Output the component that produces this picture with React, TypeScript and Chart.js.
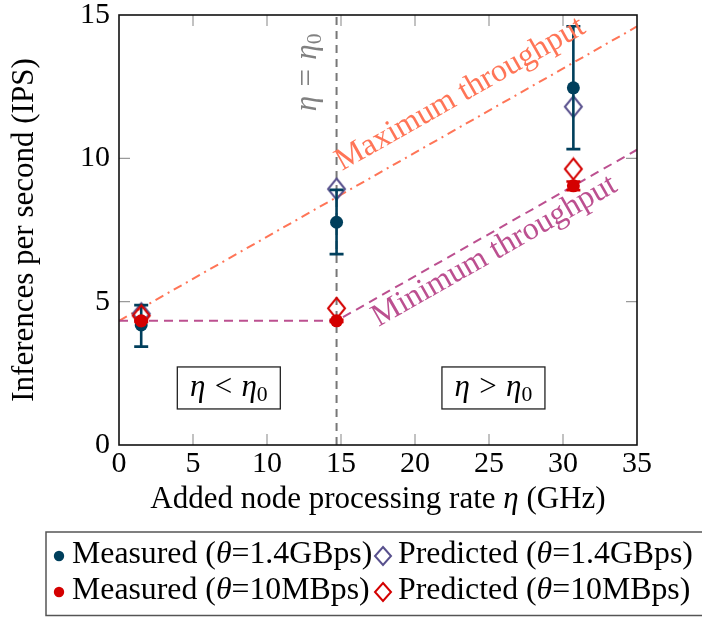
import React, { useEffect, useRef } from "react";
import { Chart, registerables } from "chart.js";

Chart.register(...registerables);

// ---------------- data ----------------
const ETA0 = 14.7;
const pointX = [1.5, 14.7, 30.7];

const measuredFast = [4.19, 7.77, 12.46];
const measuredFastLow = [3.43, 6.66, 10.32];
const measuredFastHigh = [4.88, 8.9, 14.61];
const predictedFast = [4.58, 8.93, 11.8];

const measuredSlow = [4.33, 4.33, 9.04];
const measuredSlowLow = [4.29, 4.29, 8.89];
const measuredSlowHigh = [4.37, 4.37, 9.19];
const predictedSlow = [4.51, 4.77, 9.63];

const maxThroughputX = [0, 35];
const maxThroughputY = [4.33, 14.6];
const minThroughputX = [0, ETA0, 35];
const minThroughputY = [4.33, 4.33, 10.3];
const etaLineX = [ETA0, ETA0];
const etaLineY = [0, 15];

const xTickValues = [0, 5, 10, 15, 20, 25, 30, 35];
const yTickValues = [0, 5, 10, 15];

const seriesLabels = [
  "Measured (θ=1.4GBps)",
  "Predicted (θ=1.4GBps)",
  "Measured (θ=10MBps)",
  "Predicted (θ=10MBps)",
];

// ---------------- styles ----------------
const FONT = '"Liberation Serif", "DejaVu Serif", serif';
const NAVY = "#003f5c";
const PURPLE = "#58508d";
const RED = "#d40000";
const SALMON = "#ff7557";
const MAGENTA = "#bc5090";
const GRAY = "#777777";

type Seg = { t: string; it?: boolean; sub?: boolean; gap?: number };

function segFont(s: Seg, size: number) {
  return `${s.it ? "italic " : ""}${s.sub ? size * 0.7 : size}px ${FONT}`;
}

function segWidth(ctx: CanvasRenderingContext2D, s: Seg, size: number) {
  if (s.gap) return s.gap * size;
  ctx.font = segFont(s, size);
  return ctx.measureText(s.t).width;
}

function drawRich(
  ctx: CanvasRenderingContext2D,
  segs: Seg[],
  x: number,
  y: number,
  size: number,
  align: "left" | "center" | "right"
) {
  ctx.textAlign = "left";
  ctx.textBaseline = "alphabetic";
  let w = 0;
  for (const s of segs) w += segWidth(ctx, s, size);
  let cx = align === "center" ? x - w / 2 : align === "right" ? x - w : x;
  for (const s of segs) {
    const sw = segWidth(ctx, s, size);
    if (!s.gap) {
      ctx.font = segFont(s, size);
      ctx.fillText(s.t, cx, y + (s.sub ? size * 0.16 : 0));
    }
    cx += sw;
  }
}

const mathRel = (rel: string): Seg[] => [
  { t: "η", it: true },
  { t: "", gap: 0.3 },
  { t: rel },
  { t: "", gap: 0.3 },
  { t: "η", it: true },
  { t: "0", sub: true },
];

function thetaSegs(label: string): Seg[] {
  const parts = label.split("θ");
  const out: Seg[] = [];
  parts.forEach((p, i) => {
    if (i > 0) out.push({ t: "θ", it: true });
    if (p) out.push({ t: p });
  });
  return out;
}

function makeDiamond(color: string, w: number, h: number, lw: number) {
  const c = document.createElement("canvas");
  c.width = Math.ceil(w + lw * 2);
  c.height = Math.ceil(h + lw * 2);
  const ctx = c.getContext("2d")!;
  const cx = c.width / 2;
  const cy = c.height / 2;
  ctx.strokeStyle = color;
  ctx.lineWidth = lw;
  ctx.lineJoin = "miter";
  ctx.beginPath();
  ctx.moveTo(cx, cy - h / 2);
  ctx.lineTo(cx + w / 2, cy);
  ctx.lineTo(cx, cy + h / 2);
  ctx.lineTo(cx - w / 2, cy);
  ctx.closePath();
  ctx.stroke();
  return c;
}

const toPts = (xs: number[], ys: number[]) => xs.map((x, i) => ({ x, y: ys[i] }));

function buildChart(canvas: HTMLCanvasElement) {
  const diamondPurple = makeDiamond(PURPLE, 17, 21, 2);
  const diamondRed = makeDiamond(RED, 17, 21, 2);
  const legendDiamondPurple = makeDiamond(PURPLE, 16, 18, 2);
  const legendDiamondRed = makeDiamond(RED, 16, 18, 2);

  const decor = {
    id: "decor",
    beforeDatasetDraw(chart: any, args: any) {
      const ds = chart.data.datasets[args.index];
      if (!ds.errLow) return;
      const ctx: CanvasRenderingContext2D = chart.ctx;
      const yS = chart.scales.y;
      ctx.save();
      ctx.strokeStyle = ds.errColor;
      ctx.lineWidth = 2.6;
      args.meta.data.forEach((pt: any, i: number) => {
        const yl = yS.getPixelForValue(ds.errLow[i]);
        const yh = yS.getPixelForValue(ds.errHigh[i]);
        ctx.beginPath();
        ctx.moveTo(pt.x, yl);
        ctx.lineTo(pt.x, yh);
        ctx.moveTo(pt.x - 7, yl);
        ctx.lineTo(pt.x + 7, yl);
        ctx.moveTo(pt.x - 7, yh);
        ctx.lineTo(pt.x + 7, yh);
        ctx.stroke();
      });
      ctx.restore();
    },
    afterDatasetsDraw(chart: any) {
      const ctx: CanvasRenderingContext2D = chart.ctx;
      const { left, right, top, bottom } = chart.chartArea;
      const xS = chart.scales.x;
      const yS = chart.scales.y;
      ctx.save();
      // inward tick marks
      ctx.strokeStyle = "#9a9a9a";
      ctx.lineWidth = 1.2;
      ctx.beginPath();
      xS.ticks.forEach((t: any) => {
        const px = xS.getPixelForValue(t.value);
        if (px <= left + 1 || px >= right - 1) return;
        ctx.moveTo(px, bottom);
        ctx.lineTo(px, bottom - 11);
        ctx.moveTo(px, top);
        ctx.lineTo(px, top + 11);
      });
      yS.ticks.forEach((t: any) => {
        const py = yS.getPixelForValue(t.value);
        if (py <= top + 1 || py >= bottom - 1) return;
        ctx.moveTo(left, py);
        ctx.lineTo(left + 11, py);
        ctx.moveTo(right, py);
        ctx.lineTo(right - 11, py);
      });
      ctx.stroke();
      // frame
      ctx.strokeStyle = "#111";
      ctx.lineWidth = 1.6;
      ctx.strokeRect(left, top, right - left, bottom - top);

      // eta = eta0 label
      ctx.fillStyle = "#808080";
      ctx.save();
      ctx.translate(xS.getPixelForValue(ETA0) - 21, yS.getPixelForValue(13.0));
      ctx.rotate(-Math.PI / 2);
      drawRich(ctx, mathRel("="), 0, 0, 31, "center");
      ctx.restore();

      // throughput labels along the lines
      const lineLabel = (
        xs: number[],
        ys: number[],
        seg: number,
        anchorX: number,
        along: number,
        perp: number,
        text: string,
        color: string
      ) => {
        const x1 = xS.getPixelForValue(xs[seg]);
        const y1 = yS.getPixelForValue(ys[seg]);
        const x2 = xS.getPixelForValue(xs[seg + 1]);
        const y2 = yS.getPixelForValue(ys[seg + 1]);
        const ang = Math.atan2(y2 - y1, x2 - x1);
        const f = (anchorX - xs[seg]) / (xs[seg + 1] - xs[seg]);
        const ay = ys[seg] + f * (ys[seg + 1] - ys[seg]);
        ctx.save();
        ctx.translate(xS.getPixelForValue(anchorX), yS.getPixelForValue(ay));
        ctx.rotate(ang);
        ctx.fillStyle = color;
        ctx.font = `32px ${FONT}`;
        ctx.textAlign = "left";
        ctx.textBaseline = "alphabetic";
        ctx.fillText(text, along, perp);
        ctx.restore();
      };
      lineLabel(maxThroughputX, maxThroughputY, 0, 14.8, 16, -20, "Maximum throughput", SALMON);
      lineLabel(minThroughputX, minThroughputY, 1, 16.6, 1, 26, "Minimum throughput", MAGENTA);

      // region boxes
      const regionBox = (cxVal: number, cyVal: number, segs: Seg[]) => {
        const cx = xS.getPixelForValue(cxVal);
        const cy = yS.getPixelForValue(cyVal);
        ctx.save();
        ctx.fillStyle = "#fff";
        ctx.fillRect(cx - 51.5, cy - 21, 103, 42);
        ctx.strokeStyle = "#222";
        ctx.lineWidth = 1.3;
        ctx.strokeRect(cx - 51.5, cy - 21, 103, 42);
        ctx.fillStyle = "#000";
        drawRich(ctx, segs, cx, cy + 8, 31, "center");
        ctx.restore();
      };
      regionBox(7.42, 1.99, mathRel("<"));
      regionBox(25.3, 1.99, mathRel(">"));
      ctx.restore();
    },
    afterDraw(chart: any) {
      const ctx: CanvasRenderingContext2D = chart.ctx;
      const { left, right, top, bottom } = chart.chartArea;
      ctx.save();
      ctx.fillStyle = "#000";
      // x title
      drawRich(
        ctx,
        [{ t: "Added node processing rate " }, { t: "η", it: true }, { t: " (GHz)" }],
        (left + right) / 2,
        508,
        31,
        "center"
      );
      // y title
      ctx.save();
      ctx.translate(33, (top + bottom) / 2);
      ctx.rotate(-Math.PI / 2);
      drawRich(ctx, [{ t: "Inferences per second (IPS)" }], 0, 0, 31, "center");
      ctx.restore();

      // legend
      ctx.strokeStyle = "#555";
      ctx.lineWidth = 1.5;
      ctx.strokeRect(46, 532, 700, 83.5);
      const ds = chart.data.datasets;
      const entries = [
        { d: ds[4], col: 0, row: 0 },
        { d: ds[3], col: 1, row: 0 },
        { d: ds[6], col: 0, row: 1 },
        { d: ds[5], col: 1, row: 1 },
      ];
      const colMarker = [59, 383];
      const colText = [72, 398];
      const rowBase = [563, 599];
      entries.forEach((e) => {
        const mx = colMarker[e.col];
        const my = rowBase[e.row] - 7;
        if (e.d.legendKind === "circle") {
          ctx.fillStyle = e.d.backgroundColor;
          ctx.beginPath();
          ctx.arc(mx, my, 5.2, 0, Math.PI * 2);
          ctx.fill();
        } else {
          const img = e.d.legendImage as HTMLCanvasElement;
          ctx.drawImage(img, mx - img.width / 2, my - img.height / 2);
        }
        ctx.fillStyle = "#000";
        drawRich(ctx, thetaSegs(e.d.label), colText[e.col], rowBase[e.row], 31.8, "left");
      });
      ctx.restore();
    },
  };

  return new Chart(canvas, {
    type: "scatter",
    data: {
      datasets: [
        {
          label: "eta0",
          data: toPts(etaLineX, etaLineY),
          showLine: true,
          borderColor: GRAY,
          borderWidth: 2,
          borderDash: [8, 6],
          pointRadius: 0,
          order: 10,
        } as any,
        {
          label: "Maximum throughput",
          data: toPts(maxThroughputX, maxThroughputY),
          showLine: true,
          borderColor: SALMON,
          borderWidth: 2,
          borderDash: [9, 5, 2, 5],
          pointRadius: 0,
          order: 9,
        },
        {
          label: "Minimum throughput",
          data: toPts(minThroughputX, minThroughputY),
          showLine: true,
          borderColor: MAGENTA,
          borderWidth: 2,
          borderDash: [9, 6],
          pointRadius: 0,
          order: 8,
        },
        {
          label: seriesLabels[1],
          data: toPts(pointX, predictedFast),
          pointStyle: diamondPurple,
          pointRadius: 9,
          order: 4,
          legendImage: legendDiamondPurple,
          legendKind: "diamond",
        } as any,
        {
          label: seriesLabels[0],
          data: toPts(pointX, measuredFast),
          pointStyle: "circle",
          pointRadius: 6.5,
          backgroundColor: NAVY,
          borderColor: NAVY,
          borderWidth: 0,
          order: 3,
          errLow: measuredFastLow,
          errHigh: measuredFastHigh,
          errColor: NAVY,
          legendKind: "circle",
        } as any,
        {
          label: seriesLabels[3],
          data: toPts(pointX, predictedSlow),
          pointStyle: diamondRed,
          pointRadius: 9,
          order: 2,
          legendImage: legendDiamondRed,
          legendKind: "diamond",
        } as any,
        {
          label: seriesLabels[2],
          data: toPts(pointX, measuredSlow),
          pointStyle: "circle",
          pointRadius: 6.5,
          backgroundColor: RED,
          borderColor: RED,
          borderWidth: 0,
          order: 1,
          errLow: measuredSlowLow,
          errHigh: measuredSlowHigh,
          errColor: RED,
          legendKind: "circle",
        } as any,
      ],
    },
    options: {
      responsive: false,
      animation: false,
      layout: { padding: { left: 0, right: 65, top: 15, bottom: 0 } },
      plugins: {
        legend: { display: false },
        tooltip: { enabled: false },
      },
      scales: {
        x: {
          type: "linear",
          min: 0,
          max: 35,
          afterBuildTicks: (s: any) => {
            s.ticks = xTickValues.map((v) => ({ value: v }));
          },
          grid: { display: false, drawTicks: false },
          border: { display: false },
          ticks: {
            color: "#000",
            font: { family: FONT, size: 30, lineHeight: 1.2 },
            padding: 1,
            maxRotation: 0,
            autoSkip: false,
          },
          afterFit: (s: any) => {
            s.height = 172;
            s.paddingLeft = 0;
            s.paddingRight = 0;
          },
        },
        y: {
          type: "linear",
          min: 0,
          max: 15,
          afterBuildTicks: (s: any) => {
            s.ticks = yTickValues.map((v) => ({ value: v }));
          },
          grid: { display: false, drawTicks: false },
          border: { display: false },
          ticks: {
            color: "#000",
            font: { family: FONT, size: 30 },
            padding: 9,
            autoSkip: false,
          },
          afterFit: (s: any) => {
            s.width = 119;
            s.paddingTop = 0;
            s.paddingBottom = 0;
          },
        },
      },
    },
    plugins: [decor],
  });
}

export default function App() {
  const ref = useRef<HTMLCanvasElement>(null);

  useEffect(() => {
    document.body.style.margin = "0";
    const canvas = ref.current!;
    let chart: Chart | null = null;
    let cancelled = false;
    const fontsReady = Promise.all([
      document.fonts.load('31px "Liberation Serif"'),
      document.fonts.load('italic 31px "Liberation Serif"'),
    ]).catch(() => null);
    fontsReady.then(() => {
      if (cancelled) return;
      chart = buildChart(canvas);
    });
    return () => {
      cancelled = true;
      if (chart) chart.destroy();
    };
  }, []);

  return <canvas ref={ref} width={702} height={617} style={{ display: "block" }} />;
}
